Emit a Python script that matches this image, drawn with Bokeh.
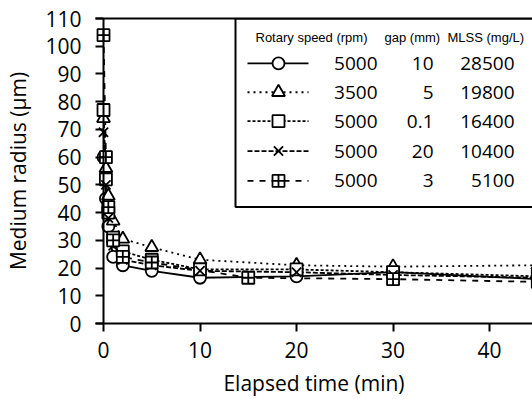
from bokeh.plotting import figure
from bokeh.models import LinearAxis, FixedTicker, Span, BoxAnnotation, Range1d
from bokeh.core.properties import value
from bokeh.embed import file_html
from bokeh.resources import INLINE

# ---------------- data ----------------
t_circle = [0, 0.25, 0.5, 1, 2, 5, 10, 20, 30, 45]
r_circle = [60, 45, 35, 24, 21, 19, 16.5, 17, 18.5, 16]

t_tri = [0, 0.25, 0.5, 1, 2, 5, 10, 20, 30, 45]
r_tri = [74, 56, 46, 37, 30.5, 27.5, 23, 21, 20.5, 21]

t_sq = [0, 0.25, 0.5, 1, 2, 5, 10, 20, 30, 45]
r_sq = [77, 52, 40, 31, 26, 23, 19.5, 19.5, 18.5, 17]

t_x = [0, 0.25, 0.5, 1, 2, 5, 10, 20, 30, 45]
r_x = [69, 50, 38, 28, 23, 21, 19, 18.5, 17.5, 16.5]

t_sqp = [0, 0.25, 0.5, 1, 2, 5, 15, 30, 45]
r_sqp = [104, 60, 42, 30, 24, 22, 16.5, 16, 15]

rpm = ["5000", "3500", "5000", "5000", "5000"]
gap = ["10", "5", "0.1", "20", "3"]
mlss = ["28500", "19800", "16400", "10400", "5100"]

x_ticks = [0, 10, 20, 30, 40]
y_ticks = [0, 10, 20, 30, 40, 50, 60, 70, 80, 90, 100, 110]

series = [
    (t_circle, r_circle, "circle", "solid", 12),
    (t_tri, r_tri, "triangle", "2 4", 13),
    (t_sq, r_sq, "square", "3 2", 12),
    (t_x, r_x, "x", "5 2", 13),
    (t_sqp, r_sqp, "square_cross", "6 6", 12),
]

# ---------------- figure ----------------
X0, X1 = -0.83, 44.45
Y0, Y1 = 0, 110
p = figure(width=532, height=399, output_backend="svg", toolbar_location=None,
           x_range=Range1d(X0, X1), y_range=Range1d(Y0, Y1),
           x_axis_type=None, y_axis_type=None,
           min_border_left=95, min_border_right=0, min_border_top=18, min_border_bottom=75)
p.outline_line_color = None
p.xgrid.visible = False
p.ygrid.visible = False
p.background_fill_color = "white"

FONT = "Open Sans"

xax = LinearAxis(ticker=FixedTicker(ticks=x_ticks), axis_label="Elapsed time (min)")
xax.axis_line_width = 2
xax.major_tick_line_width = 2
xax.major_tick_in = 0
xax.major_tick_out = 8
xax.minor_tick_line_color = None
xax.major_label_text_font = FONT
xax.major_label_text_font_size = "21px"
xax.major_label_text_color = "black"
xax.major_label_standoff = 10
xax.axis_label_text_font = FONT
xax.axis_label_text_font_size = "21px"
xax.axis_label_text_font_style = "normal"
xax.axis_label_text_color = "black"
xax.axis_label_standoff = 8
p.add_layout(xax, "below")

yax = LinearAxis(ticker=FixedTicker(ticks=y_ticks), axis_label="Medium radius (\u00b5m)")
yax.axis_line_color = None
yax.major_tick_line_width = 2
yax.major_tick_in = 8
yax.major_tick_out = 0
yax.minor_tick_line_color = None
yax.major_label_text_font = FONT
yax.major_label_text_font_size = "21px"
yax.major_label_text_color = "black"
yax.major_label_standoff = 14
yax.axis_label_text_font = FONT
yax.axis_label_text_font_size = "21px"
yax.axis_label_text_font_style = "normal"
yax.axis_label_text_color = "black"
yax.axis_label_standoff = 10
p.add_layout(yax, "left")

top = LinearAxis(ticker=FixedTicker(ticks=[]))
top.axis_line_width = 2
top.major_tick_in = 0
top.major_tick_out = 0
top.minor_tick_line_color = None
p.add_layout(top, "above")

p.add_layout(Span(location=0, dimension="height", line_color="black", line_width=2))

# ---------------- data marks ----------------
for t, r, mk, dash, sz in series:
    p.line(t, r, line_color="black", line_width=1.8, line_dash=dash)
for t, r, mk, dash, sz in series:
    p.scatter(t, r, marker=mk, size=sz, fill_color="white", line_color="black", line_width=1.8)

# ---------------- legend (hand drawn table) ----------------
def dx(px):
    return X0 + (px - 95) * (X1 - X0) / (532 - 95)

def dy(py):
    return Y1 - (py - 18) * (Y1 - Y0) / (324 - 18)

p.add_layout(BoxAnnotation(left=dx(235), right=dx(600), top=dy(18), bottom=dy(207),
                           fill_color="white", fill_alpha=1, line_color="black",
                           line_alpha=1, line_width=2, level="underlay"))

hdr_y = dy(37)
p.text(x=[dx(255), dx(384), dx(447)], y=[hdr_y] * 3,
       text=["Rotary speed (rpm)", "gap (mm)", "MLSS (mg/L)"],
       text_font=value("Liberation Sans"), text_font_size="13px",
       text_align="left", text_baseline="middle", text_color="black")

row_px = [63, 92, 121, 151, 181]
for i, (t, r, mk, dash, sz) in enumerate(series):
    yy = dy(row_px[i])
    p.line([dx(247), dx(308)], [yy, yy], line_color="black", line_width=1.8, line_dash=dash)
    p.scatter([dx(278)], [yy], marker=mk, size=sz, fill_color="white",
              line_color="black", line_width=1.8)
rows_y = [dy(v) for v in row_px]
for col, xp in ((rpm, 377), (gap, 433), (mlss, 514)):
    p.text(x=[dx(xp)] * len(col), y=rows_y, text=col,
           text_font=value(FONT), text_font_size="19px",
           text_align="right", text_baseline="middle", text_color="black")

open("out.html", "w").write(file_html(p, INLINE))
